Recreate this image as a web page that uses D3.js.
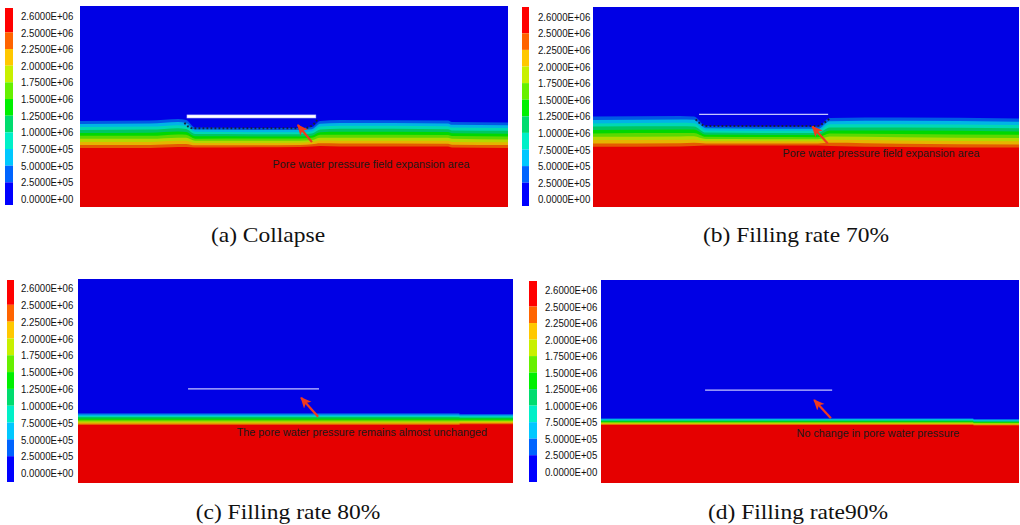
<!DOCTYPE html>
<html>
<head>
<meta charset="utf-8">
<script src="https://cdn.jsdelivr.net/npm/d3@7"></script>
<style>
body { margin: 0; background: #fff; }
</style>
</head>
<body>
<div id="chart"></div>
<script>
// legend tick labels, top to bottom
var legendLabels = ["2.6000E+06", "2.5000E+06", "2.2500E+06", "2.0000E+06", "1.7500E+06", "1.5000E+06",
	"1.2500E+06", "1.0000E+06", "7.5000E+05", "5.0000E+05", "2.5000E+05", "0.0000E+00"];

// contour band colours, from low pressure (top of model) to high pressure (bottom)
var bandColors = ["#0000ff", "#0064ff", "#00c8ff", "#00f0c8", "#00dc6e", "#00f000",
	"#66f000", "#c8f000", "#ffc800", "#ff6400", "#ff0000"];

// isobar depths (% of model height) at stations along the model (% of model width)
// each row holds the 0.25, 0.50, ... 2.50 MPa isobars
var stationsA = [0, 16.4, 22.9, 24.8, 26.9, 51.4, 54.2, 56.1, 60.7, 86.0, 86.9, 100];
var isobarsA = [
	[57.2, 58.7, 60.2, 61.7, 63.2, 64.6, 66.1, 67.6, 69.1, 70.6],
	[57.0, 58.5, 60.0, 61.5, 63.0, 64.6, 66.1, 67.6, 69.1, 70.6],
	[56.2, 57.7, 59.3, 60.8, 62.4, 63.9, 65.5, 67.0, 68.6, 70.1],
	[56.7, 58.2, 59.7, 61.2, 62.7, 64.1, 65.6, 67.1, 68.6, 70.1],
	[60.4, 61.5, 62.6, 63.7, 64.8, 66.0, 67.1, 68.2, 69.3, 70.4],
	[60.7, 61.7, 62.8, 63.8, 64.9, 65.9, 67.0, 68.0, 69.1, 70.1],
	[60.2, 61.3, 62.4, 63.4, 64.5, 65.6, 66.7, 67.7, 68.8, 69.9],
	[57.2, 58.6, 60.0, 61.4, 62.8, 64.1, 65.5, 66.9, 68.3, 69.7],
	[56.7, 58.2, 59.6, 61.1, 62.6, 64.0, 65.5, 67.0, 68.4, 69.9],
	[57.0, 58.4, 59.8, 61.3, 62.7, 64.2, 65.6, 67.0, 68.5, 69.9],
	[57.7, 59.1, 60.5, 61.9, 63.3, 64.7, 66.1, 67.6, 69.0, 70.4],
	[57.9, 59.3, 60.7, 62.1, 63.5, 64.9, 66.4, 67.8, 69.2, 70.6]
];

var stationsB = [0, 20.4, 23.7, 26.5, 52.8, 55.6, 72.1, 100];
var isobarsB = [
	[54.8, 56.5, 58.2, 59.8, 61.5, 63.2, 64.9, 66.5, 68.2, 69.9],
	[54.5, 56.2, 57.9, 59.6, 61.3, 63.0, 64.7, 66.4, 68.1, 69.8],
	[54.8, 56.4, 58.1, 59.7, 61.3, 63.0, 64.6, 66.2, 67.9, 69.5],
	[59.5, 60.6, 61.7, 62.8, 63.9, 64.9, 66.0, 67.1, 68.2, 69.3],
	[59.8, 60.9, 61.9, 63.0, 64.0, 65.1, 66.1, 67.2, 68.2, 69.3],
	[55.5, 57.1, 58.6, 60.2, 61.7, 63.3, 64.8, 66.4, 67.9, 69.5],
	[55.3, 56.9, 58.6, 60.2, 61.8, 63.5, 65.1, 66.7, 68.4, 70.0],
	[55.8, 57.4, 59.0, 60.6, 62.2, 63.9, 65.5, 67.1, 68.7, 70.3]
];

var stationsC = [0, 87.6, 87.8, 100];
var isobarsC = [
	[65.8, 66.4, 67.1, 67.7, 68.4, 69.0, 69.7, 70.3, 71.0, 71.6],
	[65.8, 66.4, 67.1, 67.7, 68.4, 69.0, 69.7, 70.3, 71.0, 71.6],
	[66.2, 66.8, 67.3, 67.9, 68.4, 69.0, 69.6, 70.1, 70.7, 71.2],
	[66.2, 66.8, 67.3, 67.9, 68.4, 69.0, 69.6, 70.1, 70.7, 71.2]
];

var stationsD = [0, 89.0, 89.2, 100];
var isobarsD = [
	[68.1, 68.5, 68.8, 69.2, 69.6, 69.9, 70.3, 70.7, 71.0, 71.4],
	[68.1, 68.5, 68.8, 69.2, 69.6, 69.9, 70.3, 70.7, 71.0, 71.4],
	[68.5, 68.8, 69.2, 69.6, 69.9, 70.3, 70.6, 71.0, 71.3, 71.7],
	[68.5, 68.8, 69.2, 69.6, 69.9, 70.3, 70.6, 71.0, 71.3, 71.7]
];

// goaf / filling body extent (% width) and depth (% height)
var cavityX = [[25.0, 55.1], [24.9, 55.2], [25.3, 55.4], [24.9, 55.3]];
var cavityDepth = [[54.2, 55.7], [53.7, 53.7], [53.9, 53.9], [54.2, 54.2]];

// dotted outline of the expanded pore pressure zone (a) and (b)
var outlineAx = [24.4, 25.3, 26.2, 52.6, 53.7, 54.9, 55.4];
var outlineAy = [58.1, 60.0, 60.8, 60.8, 60.0, 58.1, 56.7];
var outlineBx = [24.1, 25.1, 26.7, 52.7, 54.0, 55.6];
var outlineBy = [56.2, 58.2, 59.5, 59.5, 58.2, 55.7];

var captions = ["(a) Collapse", "(b) Filling rate 70%", "(c) Filling rate 80%", "(d) Filling rate90%"];
var notes = ["Pore water pressure field expansion area", "Pore water pressure field expansion area",
	"The pore water pressure remains almost unchanged", "No change in pore water pressure"];

// layout of the four panels
var panels = [
	{stations: stationsA, isobars: isobarsA, outline: [outlineAx, outlineAy], thick: true,
		bar: {x: 5, y: 8, w: 8, h: 197}, labelX: 21, labelY: [15.7, 199],
		field: {x: 80, y: 6, w: 428, h: 201}, arrow: [54.2, 67.7, 50.9, 59.2], note: [45.0, 78.6],
		caption: [268, 242]},
	{stations: stationsB, isobars: isobarsB, outline: [outlineBx, outlineBy], thick: false,
		bar: {x: 522, y: 7, w: 7, h: 199}, labelX: 538, labelY: [16.7, 199.3],
		field: {x: 593, y: 7, w: 426, h: 200}, arrow: [55.1, 68.2, 51.5, 59.8], note: [44.5, 73.2],
		caption: [796, 242]},
	{stations: stationsC, isobars: isobarsC, outline: null, thick: false,
		bar: {x: 7, y: 280, w: 7, h: 202}, labelX: 21, labelY: [288, 473],
		field: {x: 78, y: 279, w: 435, h: 204}, arrow: [55.2, 67.5, 51.3, 58.2], note: [36.5, 74.9],
		caption: [288, 519]},
	{stations: stationsD, isobars: isobarsD, outline: null, thick: false,
		bar: {x: 529, y: 281, w: 8, h: 201}, labelX: 545, labelY: [290, 471.7],
		field: {x: 601, y: 280, w: 418, h: 203}, arrow: [55.0, 68.1, 51.0, 59.1], note: [46.8, 75.5],
		caption: [798, 519]}
];

var svg = d3.select("#chart").append("svg")
	.attr("width", 1020)
	.attr("height", 525);

svg.append("defs").append("marker")
	.attr("id", "head")
	.attr("viewBox", "0 0 10 10")
	.attr("refX", 9)
	.attr("refY", 5)
	.attr("markerUnits", "userSpaceOnUse")
	.attr("markerWidth", 11)
	.attr("markerHeight", 11)
	.attr("orient", "auto")
	.append("path")
	.attr("d", "M0,0.5 L10,5 L0,9.5 L2.5,5 Z")
	.attr("fill", "#f03a1e");

var legendColors = bandColors.slice().reverse();

panels.forEach(function (p, pi) {
	var g = svg.append("g");

	// colour legend
	var ly = d3.scalePoint().domain(legendLabels).range(p.labelY);
	var legend = g.append("g");
	legend.selectAll("rect")
		.data(legendColors)
		.enter()
		.append("rect")
		.attr("x", p.bar.x)
		.attr("y", function (d, i) { return i === 0 ? p.bar.y : ly(legendLabels[i]); })
		.attr("width", p.bar.w)
		.attr("height", function (d, i) {
			var top = i === 0 ? p.bar.y : ly(legendLabels[i]);
			var bottom = i === legendColors.length - 1 ? p.bar.y + p.bar.h : ly(legendLabels[i + 1]);
			return bottom - top;
		})
		.attr("fill", function (d) { return d; });
	legend.selectAll("text")
		.data(legendLabels)
		.enter()
		.append("text")
		.attr("transform", function (d) { return "translate(" + p.labelX + "," + ly(d) + ") scale(0.84,1)"; })
		.attr("dy", "0.36em")
		.style("font-family", "'Liberation Sans', Arial, sans-serif")
		.style("font-size", "11.5px")
		.attr("fill", "#111")
		.text(function (d) { return d; });

	// contour field
	var xs = d3.scaleLinear().domain([0, 100]).range([p.field.x, p.field.x + p.field.w]);
	var ys = d3.scaleLinear().domain([0, 100]).range([p.field.y, p.field.y + p.field.h]);

	g.append("rect")
		.attr("x", xs(0))
		.attr("y", ys(0))
		.attr("width", xs(100) - xs(0))
		.attr("height", ys(100) - ys(0))
		.attr("fill", d3.color(bandColors[10]).darker(0.3));

	for (var k = 9; k >= 0; k--) {
		var pts = p.stations.map(function (x, i) { return {x: x, depth: p.isobars[i][k]}; });
		var area = d3.area()
			.x(function (d) { return xs(d.x); })
			.y0(ys(0))
			.y1(function (d) { return ys(d.depth); })
			.curve(d3.curveMonotoneX);
		g.append("path")
			.datum(pts)
			.attr("d", area)
			.attr("fill", d3.color(bandColors[k]).darker(0.3));
	}

	// goaf / filling body
	var cx = cavityX[pi], cd = cavityDepth[pi];
	if (p.thick) {
		g.append("rect")
			.attr("x", xs(cx[0]))
			.attr("y", ys(cd[0]))
			.attr("width", xs(cx[1]) - xs(cx[0]))
			.attr("height", ys(cd[1]) - ys(cd[0]))
			.attr("fill", "#fff")
			.attr("stroke", "#c8c8ff")
			.attr("stroke-width", 0.6);
	} else {
		g.append("line")
			.attr("x1", xs(cx[0]))
			.attr("x2", xs(cx[1]))
			.attr("y1", ys(cd[0]))
			.attr("y2", ys(cd[1]))
			.attr("stroke", "#c4c4ff")
			.attr("stroke-width", 1.3);
	}

	// dotted outline of the expansion zone
	if (p.outline) {
		var ox = p.outline[0], oy = p.outline[1];
		var line = d3.line()
			.x(function (d) { return xs(d[0]); })
			.y(function (d) { return ys(d[1]); })
			.curve(d3.curveMonotoneX);
		g.append("path")
			.datum(ox.map(function (x, i) { return [x, oy[i]]; }))
			.attr("d", line)
			.attr("fill", "none")
			.attr("stroke", "#15253a")
			.attr("stroke-width", 2)
			.attr("stroke-dasharray", "1.8,2.2");
	}

	// arrow and note
	g.append("line")
		.attr("x1", xs(p.arrow[0]))
		.attr("y1", ys(p.arrow[1]))
		.attr("x2", xs(p.arrow[2]))
		.attr("y2", ys(p.arrow[3]))
		.attr("stroke", "#f03a1e")
		.attr("stroke-width", 2.2)
		.attr("marker-end", "url(#head)");

	g.append("text")
		.attr("x", xs(p.note[0]))
		.attr("y", ys(p.note[1]))
		.attr("dy", "0.35em")
		.style("font-family", "'Liberation Sans', Arial, sans-serif")
		.style("font-size", "10.8px")
		.attr("fill", "#1a1a1a")
		.text(notes[pi]);

	// caption
	g.append("text")
		.attr("transform", "translate(" + p.caption[0] + "," + p.caption[1] + ") scale(1.12,1)")
		.attr("text-anchor", "middle")
		.style("font-family", "'Liberation Serif', 'Times New Roman', serif")
		.style("font-size", "21px")
		.attr("fill", "#111")
		.text(captions[pi]);
});
</script>
</body>
</html>
